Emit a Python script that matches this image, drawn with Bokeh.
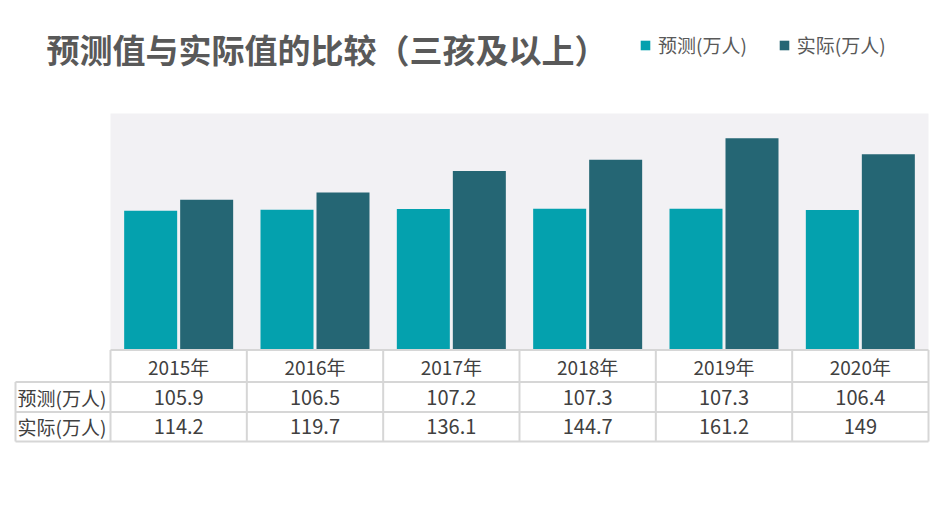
import numpy as np
from bokeh.plotting import figure
from bokeh.models import Range1d, BoxAnnotation, Legend, LegendItem
from bokeh.core.properties import value
from bokeh.embed import file_html
from bokeh.resources import INLINE

# ---- data ----
years = ["2015年", "2016年", "2017年", "2018年", "2019年", "2020年"]
predicted = [105.9, 106.5, 107.2, 107.3, 107.3, 106.4]
actual = [114.2, 119.7, 136.1, 144.7, 161.2, 149]
predicted_labels = ["105.9", "106.5", "107.2", "107.3", "107.3", "106.4"]
actual_labels = ["114.2", "119.7", "136.1", "144.7", "161.2", "149"]
series_names = ["预测(万人)", "实际(万人)"]
title_text = "预测值与实际值的比较（三孩及以上）"
y_max = 180

# ---- layout (pixels) ----
WIDTH, HEIGHT = 943, 515
PLOT_LEFT, PLOT_RIGHT, PLOT_TOP, BASE = 110, 928, 113, 349
W = (PLOT_RIGHT - PLOT_LEFT) / len(years)      # px per category
K = (BASE - PLOT_TOP) / y_max                  # px per value unit
x0 = -PLOT_LEFT / W
y0 = -(HEIGHT - BASE) / K

def dx(px):
    return x0 + px / W

def dy(py):
    return y0 + (HEIGHT - py) / K

FONT = value("Noto Sans CJK SC")
C_PRED = "#04a1ae"
C_ACT = "#256674"
GRID = "#d6d6d6"
TXT = "#404040"

p = figure(width=WIDTH, height=HEIGHT, output_backend="svg", toolbar_location=None,
           x_range=Range1d(x0, x0 + WIDTH / W), y_range=Range1d(y0, y0 + HEIGHT / K),
           min_border=0, outline_line_color=None, background_fill_color="white",
           border_fill_color="white")
p.xaxis.visible = False
p.yaxis.visible = False
p.xgrid.visible = False
p.ygrid.visible = False

# plot area background
bg = BoxAnnotation(left=0, right=len(years), bottom=0, top=y_max,
                   fill_color="#f2f1f4", fill_alpha=1, line_color=None, level="underlay")
p.add_layout(bg)

centers = np.arange(len(years)) + 0.5
off = 28 / W
bw = 53 / W
r1 = p.vbar(x=centers - off, top=predicted, width=bw, bottom=0, color=C_PRED, line_color=None)
r2 = p.vbar(x=centers + off, top=actual, width=bw, bottom=0, color=C_ACT, line_color=None)

# ---- table ----
rows_y = [349.5, 381.5, 411.5, 441]
n = len(years)
p.segment(x0=[0], y0=[dy(rows_y[0])], x1=[n], y1=[dy(rows_y[0])], line_color=GRID, line_width=2)
hy = [dy(v) for v in rows_y[1:]]
p.segment(x0=[dx(15)] * 3, y0=hy, x1=[n] * 3, y1=hy, line_color=GRID, line_width=2)
bx = list(range(n + 1))
p.segment(x0=bx, y0=[dy(rows_y[0])] * len(bx), x1=bx, y1=[dy(rows_y[3])] * len(bx),
          line_color=GRID, line_width=2)
p.segment(x0=[dx(15)], y0=[dy(rows_y[1])], x1=[dx(15)], y1=[dy(rows_y[3])],
          line_color=GRID, line_width=2)

row_mid = [(rows_y[i] + rows_y[i + 1]) / 2 for i in range(3)]
p.text(x=centers, y=[dy(row_mid[0])] * n, text=years, text_font=FONT, text_font_size="19px",
       text_color=TXT, text_align="center", text_baseline="middle")
p.text(x=centers, y=[dy(row_mid[1])] * n, text=predicted_labels, text_font=FONT,
       text_font_size="20px", text_color=TXT, text_align="center", text_baseline="middle")
p.text(x=centers, y=[dy(row_mid[2])] * n, text=actual_labels, text_font=FONT,
       text_font_size="20px", text_color=TXT, text_align="center", text_baseline="middle")
p.text(x=[dx(17)] * 2, y=[dy(row_mid[1]), dy(row_mid[2])], text=series_names, text_font=FONT,
       text_font_size="19px", text_color=TXT, text_align="left", text_baseline="middle")

# ---- title ----
p.text(x=[dx(46)], y=[dy(48)], text=[title_text], text_font=FONT, text_font_size="33px",
       text_font_style="bold", text_color="#595959", text_align="left", text_baseline="middle")

# ---- legend ----
legend = Legend(items=[LegendItem(label=series_names[0], renderers=[r1]),
                       LegendItem(label=series_names[1], renderers=[r2])],
                orientation="horizontal", location=(639, HEIGHT - 58),
                padding=0, margin=0, spacing=31, label_standoff=7,
                glyph_width=12, glyph_height=12, label_height=20,
                label_text_font="Noto Sans CJK SC", label_text_font_size="19px",
                label_text_color="#595959", background_fill_alpha=0,
                border_line_color=None)
p.add_layout(legend, "center")

open("out.html", "w").write(file_html(p, INLINE))
